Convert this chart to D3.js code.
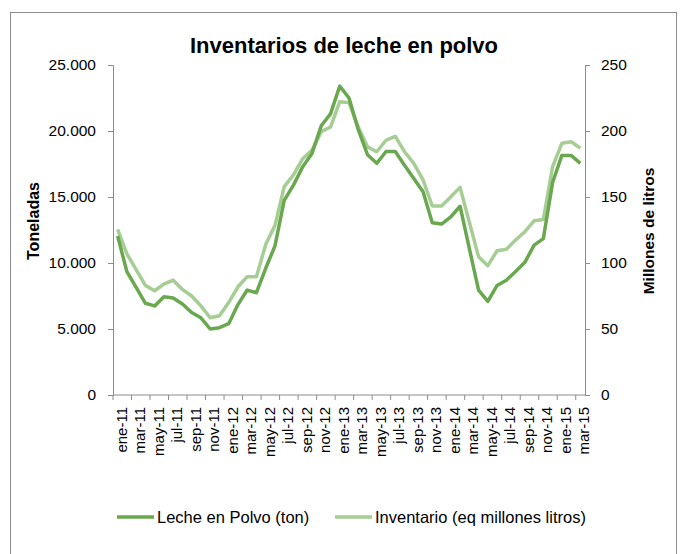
<!DOCTYPE html>
<html>
<head>
<meta charset="utf-8">
<script src="https://cdn.jsdelivr.net/npm/d3@7"></script>
<style>
  body { margin: 0; background: #fff; }
  svg text { font-family: "Liberation Sans", Arial, sans-serif; fill: #000; }
</style>
</head>
<body>
<div id="chart"></div>
<script>
// month labels (every month, Spanish abbreviations)
var meses = ["ene","feb","mar","abr","may","jun","jul","ago","sep","oct","nov","dic"];
var months = [];
for (var y = 11; y <= 15; y++) {
  for (var m = 0; m < 12; m++) {
    if (y == 15 && m > 2) break;
    months.push(meses[m] + "-" + y);
  }
}

// Leche en Polvo (ton) - left axis
var lecheTon = [12050, 9350, 8150, 6950, 6750, 7450, 7350, 6900, 6250, 5850, 5000, 5100,
  5400, 6850, 7950, 7750, 9600, 11300, 14750, 15900, 17300, 18300, 20400, 21300,
  23400, 22500, 20100, 18200, 17550, 18450, 18450, 17400, 16400, 15400, 13050, 12950,
  13500, 14300, 11100, 7950, 7100, 8300, 8700, 9350, 10050, 11350, 11850, 16100,
  18150, 18150, 17550];

// Inventario (eq millones litros) - right axis
var inventario = [125.5, 107, 95, 83, 79, 84, 87, 80, 75, 67.5, 58.5, 60,
  70, 82, 89.6, 89.6, 114, 128.5, 157.8, 166.7, 179, 185.5, 199.5, 203,
  222.2, 221.5, 203, 188, 184.3, 193, 196, 184.3, 175.5, 163, 143.2, 143.2,
  150.2, 157.3, 131, 104.8, 98, 109.3, 110.4, 117.4, 123.7, 132, 133, 173,
  190.7, 191.9, 186.9];

var leftTicks = [0, 5000, 10000, 15000, 20000, 25000];
var rightTicks = [0, 50, 100, 150, 200, 250];

var darkGreen = "#6aa84f";
var lightGreen = "#a6cd93";

var W = 680, H = 554;
var margin = {top: 65, right: 95, bottom: 159, left: 113};
var width = W - margin.left - margin.right,
    height = H - margin.top - margin.bottom;

var svg = d3.select("#chart").append("svg")
  .attr("width", W)
  .attr("height", H);

// outer frame
svg.append("rect")
  .attr("x", 10.5).attr("y", 12.5)
  .attr("width", 666).attr("height", 560)
  .attr("fill", "none")
  .attr("stroke", "#8c8c8c")
  .attr("stroke-width", 1);

svg.append("text")
  .attr("x", 344).attr("y", 53)
  .attr("text-anchor", "middle")
  .style("font-size", "22px")
  .style("font-weight", "bold")
  .text("Inventarios de leche en polvo");

var g = svg.append("g")
  .attr("transform", `translate(${margin.left},${margin.top})`);

var xScale = d3.scaleBand()
  .domain(months)
  .range([0, width])
  .padding(0);

var yLeft = d3.scaleLinear().domain([0, 25000]).range([height, 0]);
var yRight = d3.scaleLinear().domain([0, 250]).range([height, 0]);

var fmt = d3.formatLocale({decimal: ",", thousands: ".", grouping: [3], currency: ["", ""]}).format(",.0f");

// left axis
var axL = g.append("g")
  .call(d3.axisLeft(yLeft).tickValues(leftTicks).tickFormat(fmt).tickSize(5).tickPadding(12));
axL.selectAll("text").style("font-size", "15.5px");

// right axis
var axR = g.append("g")
  .attr("transform", `translate(${width},0)`)
  .call(d3.axisRight(yRight).tickValues(rightTicks).tickSize(5).tickPadding(11));
axR.selectAll("text").style("font-size", "15.5px");

// x axis: tick marks every two months at category edges
var axX = g.append("g").attr("transform", `translate(0,${height})`);
axX.append("line")
  .attr("x1", 0).attr("x2", width)
  .attr("stroke", "#8c8c8c");
axX.selectAll(".xt")
  .data(months.filter((d, i) => i % 2 == 0))
  .join("line")
  .attr("x1", d => xScale(d)).attr("x2", d => xScale(d))
  .attr("y1", 0).attr("y2", 5)
  .attr("stroke", "#8c8c8c");
axX.selectAll(".xl")
  .data(months.filter((d, i) => i % 2 == 0))
  .join("text")
  .attr("transform", d => `translate(${xScale(d) + xScale.bandwidth() / 2 + 9},12) rotate(-90)`)
  .attr("text-anchor", "end")
  .style("font-size", "15px")
  .text(d => d);

g.selectAll(".domain, .tick line").attr("stroke", "#8c8c8c");

// axis titles
svg.append("text")
  .attr("transform", "translate(39,221) rotate(-90)")
  .attr("text-anchor", "middle")
  .style("font-size", "16px")
  .style("font-weight", "bold")
  .text("Toneladas");

svg.append("text")
  .attr("transform", "translate(654,231) rotate(-90)")
  .attr("text-anchor", "middle")
  .style("font-size", "15.5px")
  .style("font-weight", "bold")
  .text("Millones de litros");

var cx = d => xScale(d) + xScale.bandwidth() / 2;

// lines
var lineR = d3.line()
  .x((d, i) => cx(months[i]))
  .y(d => yRight(d));
var lineL = d3.line()
  .x((d, i) => cx(months[i]))
  .y(d => yLeft(d));

g.append("path")
  .datum(inventario)
  .attr("d", lineR)
  .attr("fill", "none")
  .attr("stroke", lightGreen)
  .attr("stroke-width", 3.5)
  .attr("stroke-linejoin", "round");

g.append("path")
  .datum(lecheTon)
  .attr("d", lineL)
  .attr("fill", "none")
  .attr("stroke", darkGreen)
  .attr("stroke-width", 3.5)
  .attr("stroke-linejoin", "round");

// legend
var legend = [
  {name: "Leche en Polvo (ton)", color: darkGreen, x: 117},
  {name: "Inventario (eq millones litros)", color: lightGreen, x: 335}
];
var lg = svg.selectAll(".lg").data(legend).join("g")
  .attr("transform", d => `translate(${d.x},517)`);
lg.append("line")
  .attr("x1", 0).attr("x2", 37)
  .attr("stroke", d => d.color)
  .attr("stroke-width", 3.5);
lg.append("text")
  .attr("x", 40).attr("y", 6)
  .style("font-size", "16.5px")
  .text(d => d.name);
</script>
</body>
</html>
